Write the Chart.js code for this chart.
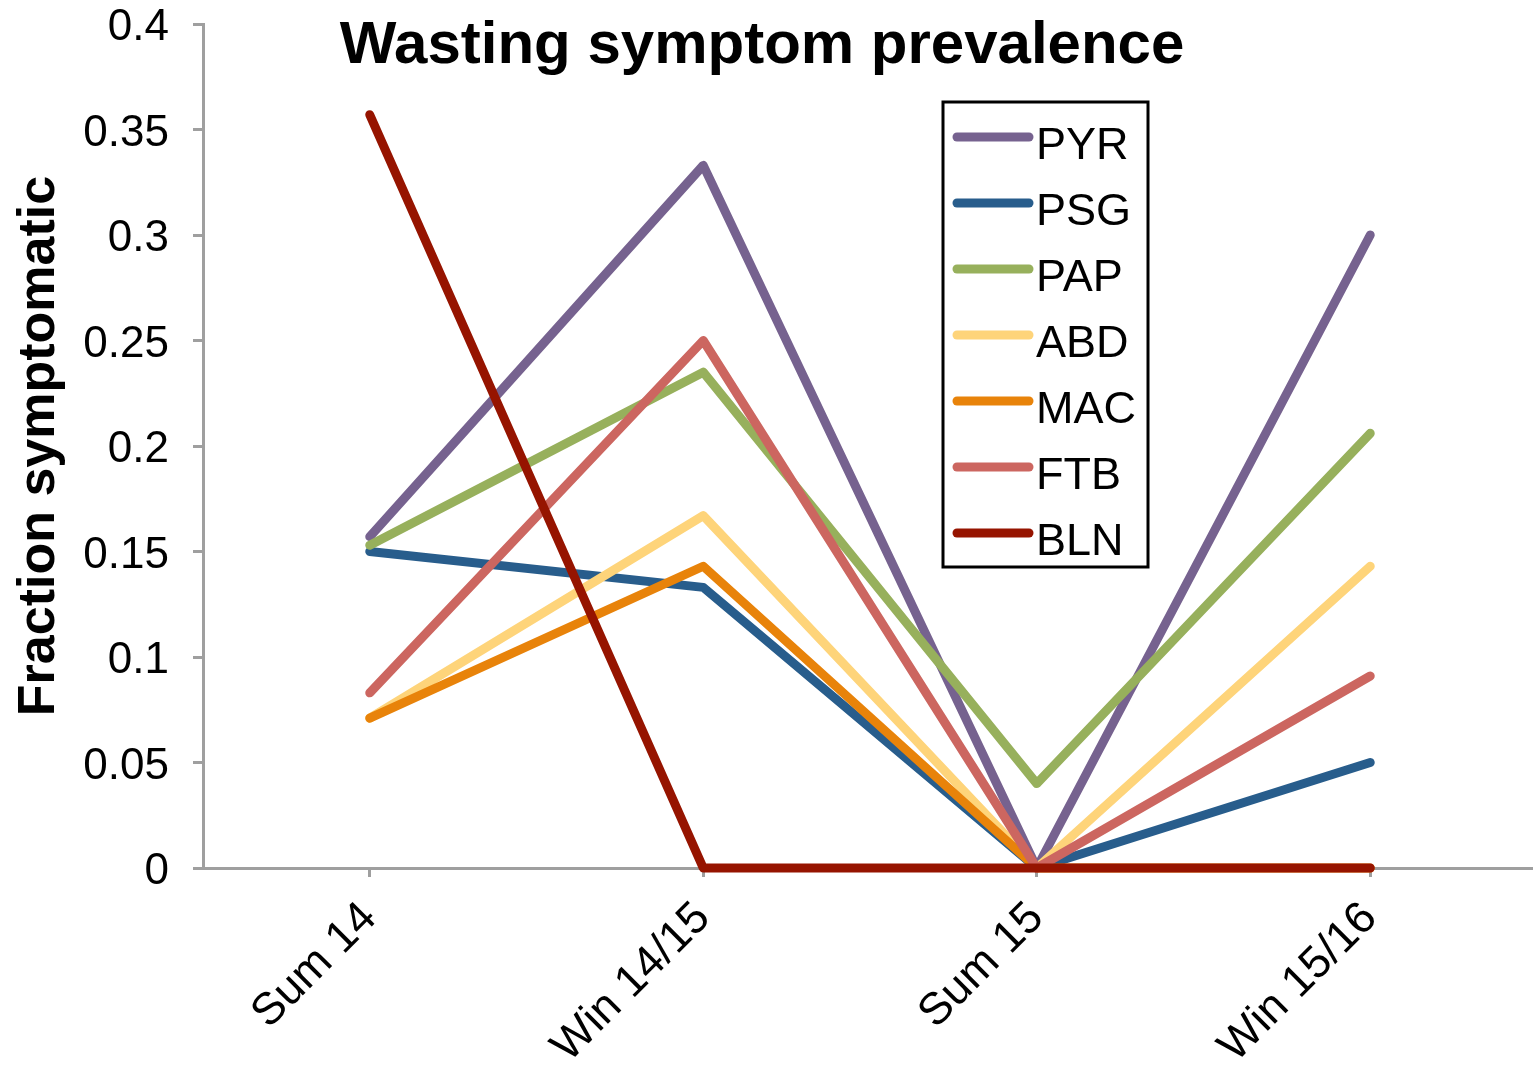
<!DOCTYPE html>
<html>
<head>
<meta charset="utf-8">
<script src="https://cdn.jsdelivr.net/npm/chart.js@4/dist/chart.umd.min.js"></script>
<style>
  html, body { margin: 0; padding: 0; background: #fff; overflow: hidden; }
  #wrap { position: relative; width: 1540px; height: 1067px; }
</style>
</head>
<body>
<div id="wrap"><canvas id="chart"></canvas></div>
<script>
/* Wasting symptom prevalence by site and season */
const SEASONS = ["Sum 14", "Win 14/15", "Sum 15", "Win 15/16"];
const SITES = ["PYR", "PSG", "PAP", "ABD", "MAC", "FTB", "BLN"];
const PYR = [0.157, 0.333, 0, 0.3];
const PSG = [0.15, 0.133, 0, 0.05];
const PAP = [0.153, 0.235, 0.04, 0.206];
const ABD = [0.071, 0.167, 0, 0.143];
const MAC = [0.071, 0.143, 0, 0];
const FTB = [0.083, 0.25, 0, 0.091];
const BLN = [0.357, 0, 0, 0];
const Y_TICKS = [0, 0.05, 0.1, 0.15, 0.2, 0.25, 0.3, 0.35, 0.4];

const SERIES = [PYR, PSG, PAP, ABD, MAC, FTB, BLN];
const COLORS = ["#76628F", "#285D8C", "#97B05C", "#FED47A", "#E8830A", "#CC6660", "#961400"];
const FONT = "'Liberation Sans', Arial, Helvetica, sans-serif";
const AXIS = "#9f9f9f";

// later series sit on top, like the source spreadsheet
const datasets = SITES.map((s, i) => ({
  label: s,
  data: SERIES[i],
  borderColor: COLORS[i],
  backgroundColor: COLORS[i],
  borderWidth: 9,
  borderCapStyle: "round",
  borderJoinStyle: "round",
  pointRadius: 0,
  tension: 0,
  clip: false,
  order: SITES.length - i,
}));

const titlePlugin = {
  id: "titleText",
  afterDraw(chart) {
    const ctx = chart.ctx;
    ctx.save();
    ctx.font = "bold 60px " + FONT;
    ctx.fillStyle = "#000";
    ctx.textAlign = "center";
    ctx.textBaseline = "alphabetic";
    ctx.fillText("Wasting symptom prevalence", 762, 63);
    ctx.restore();
  },
};

const boxLegend = {
  id: "boxLegend",
  afterDraw(chart) {
    const ctx = chart.ctx;
    ctx.save();
    ctx.fillStyle = "#fff";
    ctx.fillRect(943, 102, 205, 465);
    ctx.strokeStyle = "#000";
    ctx.lineWidth = 3;
    ctx.strokeRect(943, 102, 205, 465);
    ctx.font = "45px " + FONT;
    ctx.textBaseline = "alphabetic";
    ctx.textAlign = "left";
    chart.data.datasets.forEach((ds, i) => {
      const y = 137 + i * 66;
      ctx.strokeStyle = ds.borderColor;
      ctx.lineWidth = 9;
      ctx.lineCap = "round";
      ctx.beginPath();
      ctx.moveTo(957, y);
      ctx.lineTo(1029, y);
      ctx.stroke();
      ctx.fillStyle = "#000";
      ctx.fillText(ds.label, 1036, y + 22);
    });
    ctx.restore();
  },
};

new Chart(document.getElementById("chart"), {
  type: "line",
  data: { labels: SEASONS, datasets },
  plugins: [titlePlugin, boxLegend],
  options: {
    responsive: true,
    maintainAspectRatio: false,
    animation: false,
    layout: { padding: { top: 0, right: 3, left: 0, bottom: 0 } },
    plugins: { legend: { display: false }, tooltip: { enabled: false } },
    scales: {
      x: {
        offset: true,
        afterFit: (s) => { s.height = 199; },
        border: { color: AXIS, width: 3 },
        grid: { drawOnChartArea: false, color: AXIS, lineWidth: 3, tickLength: 9, offset: false },
        ticks: { color: "#000", font: { family: FONT, size: 45 }, maxRotation: 45, minRotation: 45, padding: 15 },
      },
      y: {
        min: 0,
        max: 0.4,
        afterFit: (s) => { s.width = 203; s.paddingTop = 24; s.paddingBottom = 0; },
        afterBuildTicks: (s) => { s.ticks = Y_TICKS.map((v) => ({ value: v })); },
        border: { color: AXIS, width: 3 },
        grid: { drawOnChartArea: false, color: AXIS, lineWidth: 3, tickLength: 10 },
        ticks: {
          color: "#000",
          font: { family: FONT, size: 44, lineHeight: 1.1 },
          padding: 24,
          labelOffset: 4,
          callback: (v) => String(+Number(v).toFixed(2)),
        },
        title: {
          display: true,
          text: "Fraction symptomatic",
          color: "#000",
          font: { family: FONT, size: 52, weight: "bold" },
          padding: { top: 8, bottom: 0 },
        },
      },
    },
  },
});
</script>
</body>
</html>
